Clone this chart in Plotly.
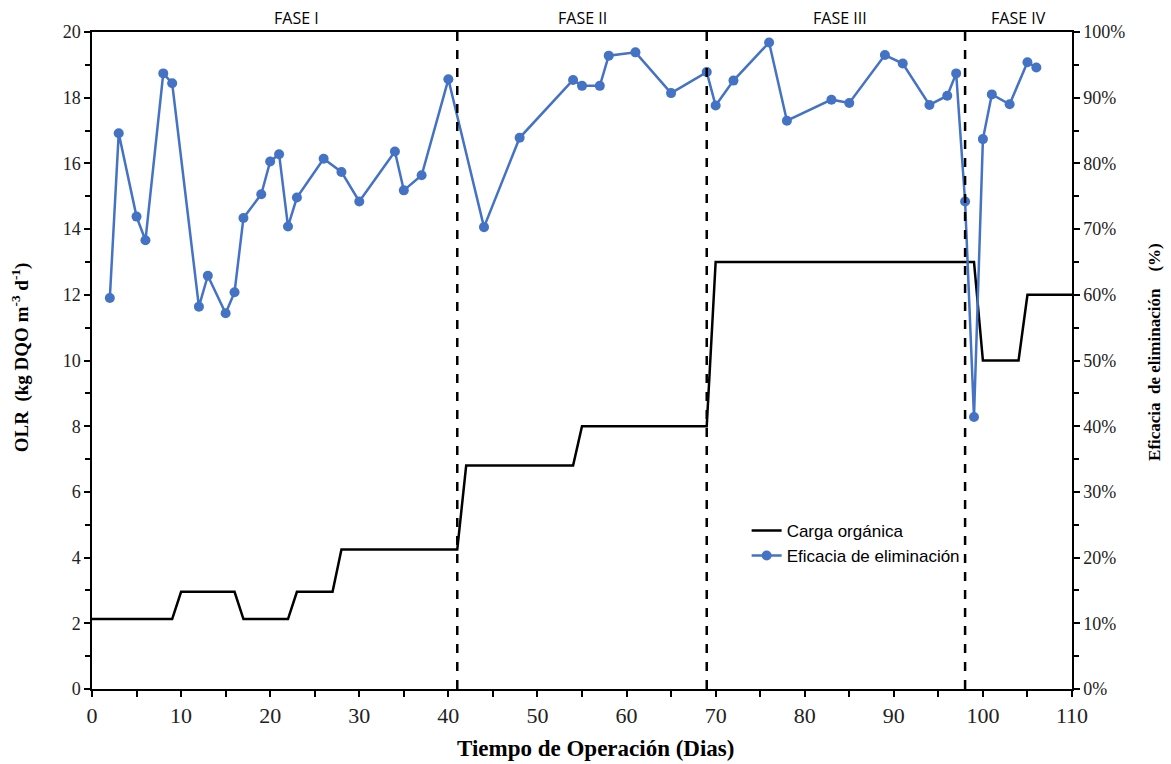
import plotly.graph_objects as go

# OLR (kg DQO m-3 d-1) step line
olr_days = [0, 9, 10, 16, 17, 22, 23, 27, 28, 41, 42, 54, 55, 69, 70, 99, 100, 104, 105, 110]
olr_vals = [2.13, 2.13, 2.96, 2.96, 2.13, 2.13, 2.96, 2.96, 4.25, 4.25, 6.8, 6.8, 8.0, 8.0, 13.0, 13.0, 10.0, 10.0, 12.0, 12.0]

# Removal efficiency (%)
eff_days = [2, 3, 5, 6, 8, 9, 12, 13, 15, 16, 17, 19, 20, 21, 22, 23, 26, 28, 30, 34, 35, 37, 40,
            44, 48, 54, 55, 57, 58, 61, 65, 69, 70, 72, 76, 78, 83, 85, 89, 91, 94, 96, 97, 98,
            99, 100, 101, 103, 105, 106]
eff_vals = [59.5, 84.6, 71.9, 68.3, 93.7, 92.2, 58.2, 62.9, 57.2, 60.4, 71.7, 75.3, 80.3, 81.4, 70.4, 74.8,
            80.7, 78.7, 74.2, 81.8, 75.9, 78.2, 92.8,
            70.3, 83.9, 92.7, 91.8, 91.8, 96.4, 96.9, 90.7, 93.9, 88.8, 92.6, 98.4, 86.5, 89.7, 89.2,
            96.5, 95.2, 88.9, 90.3, 93.7, 74.2,
            41.4, 83.7, 90.5, 89.0, 95.4, 94.6]

phase_bounds = [41, 69, 98]
phase_names = ["FASE I", "FASE II", "FASE III", "FASE IV"]
phase_label_x = [23, 55, 84, 104]

x_ticks = list(range(0, 111, 10))
y_ticks = list(range(0, 21, 2))
y2_ticks = list(range(0, 101, 10))
y2_labels = [f"{v}%" for v in y2_ticks]

fig = go.Figure()
fig.add_trace(go.Scatter(
    x=olr_days, y=olr_vals, mode="lines", name="Carga orgánica",
    line=dict(color="black", width=2.5), yaxis="y"))
fig.add_trace(go.Scatter(
    x=eff_days, y=eff_vals, mode="lines+markers", name="Eficacia de eliminación",
    line=dict(color="#4472C4", width=2.5), marker=dict(color="#4472C4", size=10),
    yaxis="y2"))

for b in phase_bounds:
    fig.add_shape(type="line", x0=b, x1=b, y0=0, y1=20, xref="x", yref="y",
                  line=dict(color="black", width=2.5, dash="dash"))

for name, px in zip(phase_names, phase_label_x):
    fig.add_annotation(x=px, y=1.0, xref="x", yref="paper", yanchor="bottom", yshift=1,
                       text=name, showarrow=False,
                       font=dict(family="Open Sans, Arial", size=16, color="black"))

serif = "Liberation Serif, Times New Roman, serif"

fig.add_annotation(x=0, xref="paper", xanchor="center", xshift=-72, y=0.505, yref="paper",
                   yanchor="middle",
                   text="<b>OLR  (kg DQO m<sup>-3</sup> d<sup>-1</sup>)</b>", textangle=-90,
                   showarrow=False, font=dict(family=serif, size=19, color="black"))
fig.add_annotation(x=1, xref="paper", xanchor="center", xshift=83, y=0.513, yref="paper",
                   yanchor="middle",
                   text="<b>Eficacia  de eliminación    (%)</b>", textangle=-90,
                   showarrow=False, font=dict(family=serif, size=17, color="black"))
fig.add_annotation(x=0.5, xref="paper", xanchor="center", xshift=13, y=0, yref="paper",
                   yanchor="middle", yshift=-59,
                   text="<b>Tiempo de Operación (Dias)</b>",
                   showarrow=False, font=dict(family=serif, size=23, color="black"))

fig.update_layout(
    width=1171, height=764,
    margin=dict(l=92, r=99, t=32, b=75),
    paper_bgcolor="white", plot_bgcolor="white",
    font=dict(family=serif, size=18, color="#222"),
    xaxis=dict(range=[0, 110], tickvals=x_ticks, ticks="outside", ticklen=6, tickwidth=1.5,
               tickcolor="black", tickfont=dict(size=22),
               minor=dict(dtick=5, tick0=0, ticks="outside", ticklen=6, tickcolor="black"),
               showline=True, linecolor="black", linewidth=1.5, mirror=True, showgrid=False,
               zeroline=False),
    yaxis=dict(range=[0, 20], tickvals=y_ticks, ticks="outside", ticklen=6, tickwidth=1.5,
               tickcolor="black",
               minor=dict(dtick=1, tick0=0, ticks="outside", ticklen=5, tickcolor="black"),
               showline=True, linecolor="black", linewidth=1.5, showgrid=False, zeroline=False),
    yaxis2=dict(range=[0, 100], tickmode="array", tickvals=y2_ticks, ticktext=y2_labels,
                overlaying="y", side="right",
                ticks="outside", ticklen=6, tickwidth=1.5, tickcolor="black",
                minor=dict(dtick=5, tick0=0, ticks="outside", ticklen=5, tickcolor="black"),
                showline=True, linecolor="black", linewidth=1.5, showgrid=False, zeroline=False),
    legend=dict(x=0.668, y=0.268, xanchor="left", yanchor="top", bgcolor="rgba(0,0,0,0)",
                font=dict(family="Liberation Sans, Arial", size=17, color="black"),
                tracegroupgap=2, itemwidth=30),
    showlegend=True,
)

fig.write_html("out.html")
